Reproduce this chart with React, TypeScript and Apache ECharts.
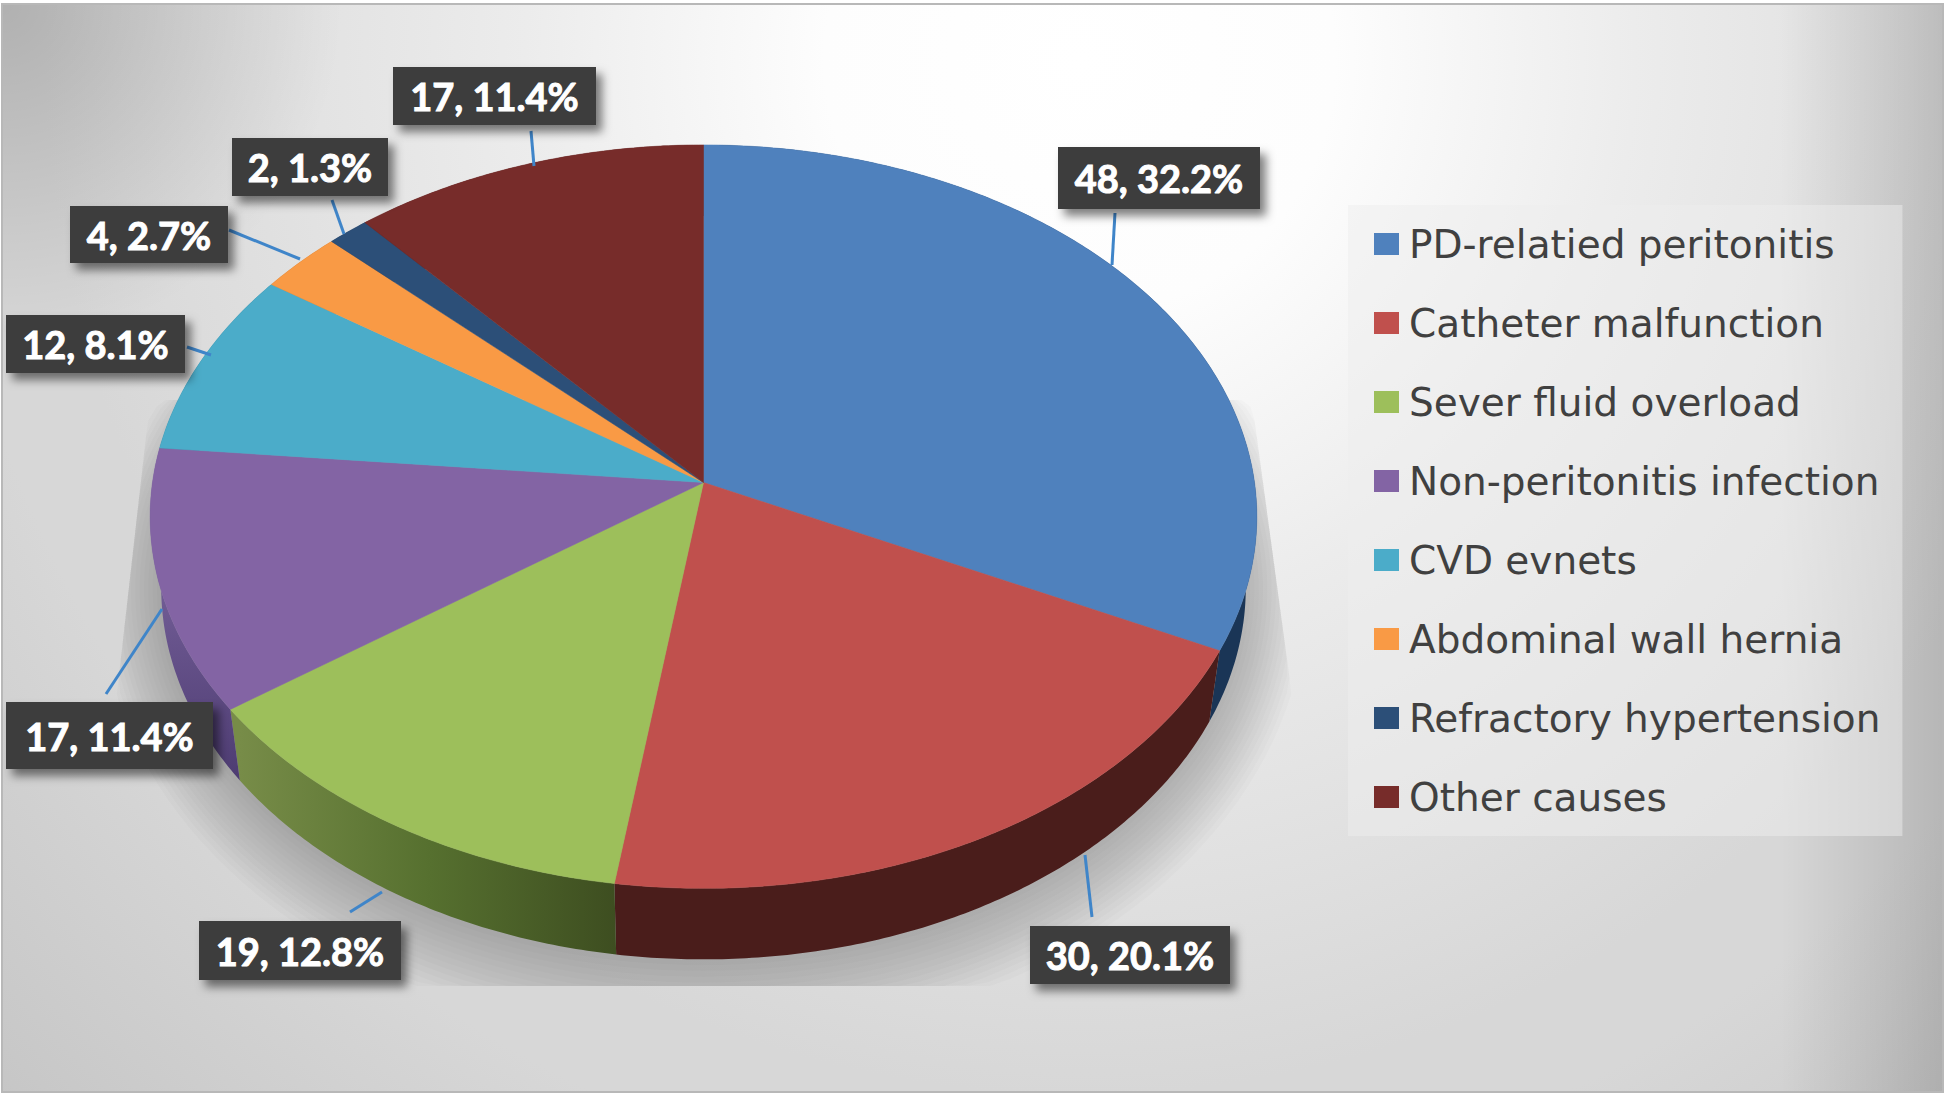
import React, { useEffect, useRef } from "react";
import * as echarts from "echarts";

// ---- data ----
const CATEGORIES = [
  "PD-relatied peritonitis",
  "Catheter malfunction",
  "Sever fluid overload",
  "Non-peritonitis infection",
  "CVD evnets",
  "Abdominal wall hernia",
  "Refractory hypertension",
  "Other causes",
];
const VALUES = [48, 30, 19, 17, 12, 4, 2, 17];

// ---- styles ----
const TOP_COLORS = ["#4f81bd", "#c0504d", "#9dbf5b", "#8364a4", "#4bacc9", "#f99a45", "#2c4f78", "#772c2a"];
const WALL_COLORS: any[] = [
  "#1a3556",
  "#4a1d1b",
  new echarts.graphic.LinearGradient(240, 0, 620, 0, [
    { offset: 0, color: "#778c48" },
    { offset: 0.5, color: "#56702f" },
    { offset: 1, color: "#3d4d20" },
  ], true),
  new echarts.graphic.LinearGradient(0, 600, 0, 790, [
    { offset: 0, color: "#6f5a93" },
    { offset: 1, color: "#4b3a70" },
  ], true),
  "#2f6f82",
  "#a8622a",
  "#1b3048",
  "#4a1d1b",
];

// projected geometry of the tilted pie
const CX = 703.5;
const CY = 482.5;
const RX = 551;
const RY = 368.6;
const PERSPECTIVE = 0.0918;
const DEPTH = 71;
const BOTTOM_X_SCALE = 0.98;

// label boxes: [x, y, w, h] and leader line [x1, y1, x2, y2], in slice order
const LABEL_BOX = [
  [1058, 147, 202, 62],
  [1030, 926, 200, 58],
  [199, 921, 202, 59],
  [6, 702, 207, 67],
  [6, 315, 179, 58],
  [70, 206, 158, 57],
  [232, 138, 156, 58],
  [393, 67, 203, 58],
];
const LEADER = [
  [1115, 213, 1112, 265],
  [1085, 855, 1092, 917],
  [382, 892, 350, 912],
  [162, 609, 106, 694],
  [187, 347, 211, 355],
  [229, 230, 300, 259],
  [332, 200, 344, 234],
  [531, 131, 534, 166],
];

const TOTAL = VALUES.reduce((a, b) => a + b, 0);

function rim(theta: number, bottom: boolean): number[] {
  const X = Math.sin(theta);
  const Y = Math.cos(theta);
  const w = 1 + PERSPECTIVE * Y;
  const dx = (RX * X) / w;
  const dy = (-RY * Y) / w;
  return bottom ? [CX + dx * BOTTOM_X_SCALE, CY + dy + DEPTH] : [CX + dx, CY + dy];
}

function arc(a0: number, a1: number, bottom: boolean): number[][] {
  const n = Math.max(2, Math.ceil(Math.abs(a1 - a0) / 0.01));
  const pts: number[][] = [];
  for (let i = 0; i <= n; i++) pts.push(rim(a0 + ((a1 - a0) * i) / n, bottom));
  return pts;
}

function shadowLayer(grow: number): number[][] {
  const pts: number[][] = [];
  const ccy = CY + DEPTH;
  for (let i = 0; i < 360; i += 2) {
    const [x0, y0] = rim((i * Math.PI) / 180, true);
    let x = CX + (x0 - CX) * (1 + grow);
    let y = ccy + (y0 - ccy) * (1 + grow * 1.8);
    y = Math.max(400, Math.min(986, y));
    const t = (y - 400) / 265;
    const leftEdge = 150 - 30 * t;
    const tr = (y - 430) / 265;
    const rightEdge = 1256 + 36 * tr;
    x = Math.min(rightEdge, Math.max(leftEdge, x));
    pts.push([x, y]);
  }
  return pts;
}

function renderSlice(params: any, api: any) {
  const idx = params.seriesIndex;
  const value = api.value(0);
  const before = VALUES.slice(0, idx).reduce((a, b) => a + b, 0);
  const a0 = (before / TOTAL) * Math.PI * 2;
  const a1 = ((before + value) / TOTAL) * Math.PI * 2;
  const topArc = arc(a0, a1, false);
  const botArc = arc(a0, a1, true).reverse();
  const [bx, by, bw, bh] = LABEL_BOX[idx];
  const [l1, l2, l3, l4] = LEADER[idx];
  const pct = ((value / TOTAL) * 100).toFixed(1);
  return {
    type: "group",
    children: [
      {
        type: "polygon",
        z2: 1,
        shape: { points: topArc.concat(botArc) },
        style: { fill: WALL_COLORS[idx] },
      },
      {
        type: "polygon",
        z2: 2,
        shape: { points: [[CX, CY] as number[]].concat(topArc) },
        style: { fill: TOP_COLORS[idx], stroke: TOP_COLORS[idx], lineWidth: 0.5 },
      },
      {
        type: "line",
        z2: 3,
        shape: { x1: l1, y1: l2, x2: l3, y2: l4 },
        style: { stroke: "#3f85c9", lineWidth: 3 },
      },
      {
        type: "rect",
        z2: 4,
        shape: { x: bx, y: by, width: bw, height: bh },
        style: {
          fill: "#3d3d3d",
          shadowBlur: 10,
          shadowOffsetX: 6,
          shadowOffsetY: 7,
          shadowColor: "rgba(0,0,0,0.5)",
        },
      },
      {
        type: "text",
        z2: 5,
        style: {
          text: `${value}, ${pct}%`,
          x: bx + bw / 2,
          y: by + bh / 2,
          align: "center",
          verticalAlign: "middle",
          fill: "#ffffff",
          stroke: "#ffffff",
          lineWidth: 1,
          font: 'bold 38px Lato, "Noto Sans", sans-serif',
        },
      },
    ],
  };
}

const W = 1946;
const H = 1096;

function backgroundGraphics(): any[] {
  const frame = { x: 2, y: 4, width: 1941, height: 1088 };
  const els: any[] = [
    {
      type: "rect",
      shape: frame,
      style: {
        stroke: "#b8b8b8",
        lineWidth: 2,
        fill: new echarts.graphic.RadialGradient(1080, 60, 1500, [
          { offset: 0, color: "#ffffff" },
          { offset: 0.17, color: "#fdfdfd" },
          { offset: 0.37, color: "#ececec" },
          { offset: 0.69, color: "#d7d7d7" },
          { offset: 0.76, color: "#d7d7d7" },
          { offset: 1, color: "#c6c6c6" },
        ], true),
      },
    },
    {
      type: "rect",
      shape: { x: 1780, y: 5, width: 162, height: 1086 },
      style: {
        fill: new echarts.graphic.LinearGradient(1780, 0, 1942, 0, [
          { offset: 0, color: "rgba(0,0,0,0)" },
          { offset: 1, color: "rgba(0,0,0,0.15)" },
        ], true),
      },
    },
    {
      type: "rect",
      shape: { x: 3, y: 5, width: 360, height: 360 },
      style: {
        fill: new echarts.graphic.RadialGradient(3, 5, 340, [
          { offset: 0, color: "rgba(0,0,0,0.18)" },
          { offset: 1, color: "rgba(0,0,0,0)" },
        ], true),
      },
    },
  ];
  for (let k = 1; k <= 14; k++) {
    els.push({
      type: "polygon",
      shape: { points: shadowLayer(0.008 * k) },
      style: { fill: "rgba(0,0,0,0.017)" },
      silent: true,
    });
  }
  return els;
}

export default function App() {
  const ref = useRef<HTMLDivElement>(null);
  useEffect(() => {
    document.body.style.margin = "0";
    const chart = echarts.init(ref.current!, undefined, { renderer: "svg" });
    chart.setOption({
      animation: false,
      backgroundColor: "#ffffff",
      color: TOP_COLORS,
      graphic: { elements: backgroundGraphics() },
      legend: {
        orient: "vertical",
        left: 1348,
        top: 205,
        padding: [16, 22, 16, 26],
        backgroundColor: "rgba(238,238,238,0.5)",
        data: CATEGORIES,
        icon: "rect",
        itemWidth: 25,
        itemHeight: 22,
        itemGap: 33,
        selectedMode: false,
        textStyle: {
          fontFamily: '"DejaVu Sans", sans-serif',
          fontSize: 39,
          lineHeight: 46,
          color: "#404040",
          padding: [0, 0, 0, 5],
        },
      },
      series: CATEGORIES.map((name, i) => ({
        type: "custom",
        name,
        coordinateSystem: "none",
        silent: true,
        clip: false,
        itemStyle: { color: TOP_COLORS[i] },
        data: [[VALUES[i]]],
        renderItem: renderSlice,
      })),
    });
    return () => chart.dispose();
  }, []);
  return <div ref={ref} style={{ width: W, height: H, position: "absolute", left: 0, top: 0 }} />;
}
